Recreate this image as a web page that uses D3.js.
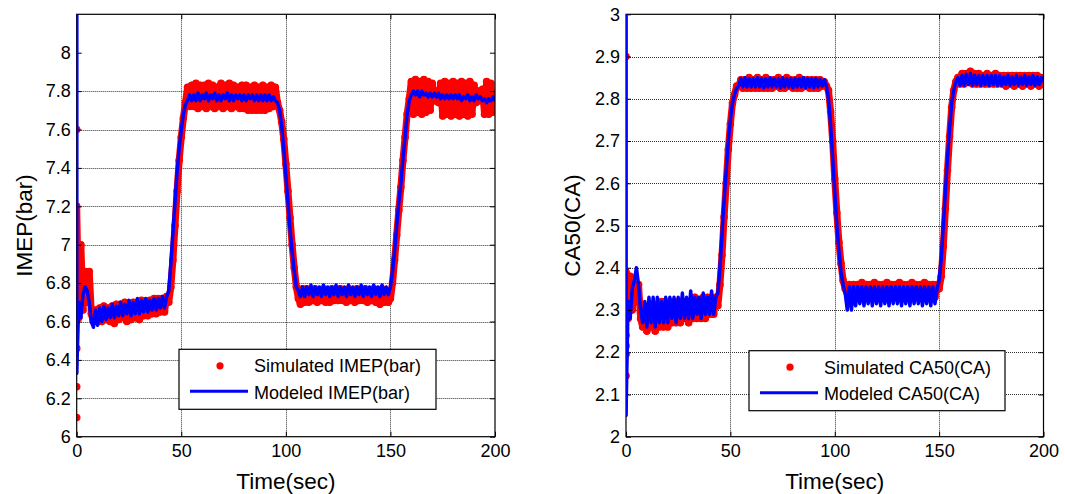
<!DOCTYPE html>
<html><head><meta charset="utf-8">
<script src="https://cdn.jsdelivr.net/npm/d3@7"></script>
<style>
body{margin:0;background:#fff}
svg text{font-family:"Liberation Sans",Arial,sans-serif;fill:#000}
</style>
</head><body>
<svg id="chart" width="1065" height="494"></svg>
<script>
// ---------- data ----------
const timeSec = d3.range(0, 201); // 1-second samples, 0..200 s
const xTicks = [0, 50, 100, 150, 200];
const imepTicks = [6, 6.2, 6.4, 6.6, 6.8, 7, 7.2, 7.4, 7.6, 7.8, 8];
const ca50Ticks = [2, 2.1, 2.2, 2.3, 2.4, 2.5, 2.6, 2.7, 2.8, 2.9, 3];

// initial samples at t = 0
const imepSimStart = [7.6, 6.87, 6.68, 6.46, 6.26, 6.10];
const imepModelStart = [8.3];
const ca50SimStart = [2.90, 2.24, 2.215, 2.195, 2.144];
const ca50ModelStart = [3.05];

const imepSim = [
7.20,6.62,7.00,6.66,6.86,6.70,6.86,6.64,6.60,6.66,
6.60,6.67,6.60,6.68,6.61,6.67,6.60,6.68,6.59,6.69,
6.61,6.69,6.62,6.70,6.60,6.69,6.61,6.70,6.62,6.70,
6.61,6.71,6.63,6.70,6.63,6.71,6.64,6.72,6.64,6.72,
6.65,6.72,6.65,6.73,6.70,6.78,6.92,7.10,7.28,7.44,
7.56,7.66,7.74,7.82,7.72,7.83,7.72,7.84,7.71,7.83,
7.72,7.83,7.71,7.84,7.72,7.83,7.71,7.82,7.72,7.84,
7.71,7.83,7.72,7.84,7.71,7.83,7.72,7.82,7.71,7.83,
7.71,7.83,7.70,7.82,7.70,7.83,7.70,7.82,7.70,7.83,
7.70,7.82,7.71,7.83,7.72,7.82,7.74,7.70,7.64,7.55,
7.42,7.28,7.14,7.00,6.88,6.78,6.72,6.69,6.77,6.70,
6.77,6.70,6.76,6.71,6.77,6.70,6.76,6.71,6.77,6.70,
6.76,6.70,6.77,6.71,6.76,6.71,6.77,6.71,6.76,6.70,
6.77,6.71,6.76,6.70,6.77,6.71,6.76,6.71,6.77,6.70,
6.76,6.71,6.77,6.70,6.76,6.69,6.77,6.70,6.76,6.70,
6.72,6.80,6.92,7.05,7.18,7.30,7.44,7.56,7.68,7.76,
7.85,7.68,7.86,7.69,7.85,7.68,7.86,7.69,7.85,7.70,
7.84,7.75,7.80,7.74,7.84,7.67,7.85,7.68,7.84,7.67,
7.85,7.68,7.84,7.67,7.85,7.68,7.84,7.67,7.85,7.68,
7.83,7.74,7.80,7.75,7.81,7.68,7.85,7.68,7.84,7.69,
7.78];

const imepModel = [
6.33,6.70,6.62,6.74,6.78,6.76,6.70,6.60,6.57,6.66,
6.58,6.67,6.60,6.68,6.61,6.67,6.62,6.69,6.62,6.68,
6.63,6.70,6.63,6.69,6.64,6.71,6.63,6.70,6.64,6.72,
6.64,6.71,6.65,6.72,6.65,6.71,6.66,6.72,6.66,6.72,
6.67,6.73,6.67,6.73,6.76,6.90,7.06,7.22,7.38,7.50,
7.60,7.68,7.73,7.75,7.78,7.75,7.78,7.75,7.79,7.75,
7.78,7.76,7.79,7.75,7.78,7.76,7.79,7.75,7.78,7.75,
7.78,7.76,7.79,7.75,7.78,7.75,7.78,7.76,7.78,7.75,
7.78,7.75,7.78,7.76,7.78,7.75,7.78,7.75,7.78,7.75,
7.78,7.75,7.78,7.75,7.77,7.75,7.74,7.70,7.62,7.50,
7.36,7.22,7.08,6.96,6.86,6.78,6.76,6.73,6.78,6.73,
6.78,6.74,6.79,6.73,6.78,6.74,6.78,6.73,6.79,6.74,
6.78,6.73,6.78,6.74,6.79,6.73,6.78,6.74,6.78,6.73,
6.79,6.74,6.78,6.73,6.78,6.74,6.79,6.73,6.78,6.74,
6.78,6.73,6.79,6.74,6.78,6.73,6.79,6.74,6.78,6.74,
6.78,6.86,6.97,7.10,7.22,7.32,7.45,7.56,7.68,7.75,
7.78,7.80,7.78,7.80,7.77,7.80,7.78,7.79,7.77,7.79,
7.77,7.79,7.77,7.79,7.76,7.78,7.76,7.78,7.76,7.78,
7.76,7.78,7.76,7.78,7.75,7.77,7.76,7.78,7.75,7.77,
7.75,7.78,7.76,7.77,7.75,7.76,7.74,7.76,7.75,7.77,
7.75];

const ca50Sim = [
2.39,2.28,2.38,2.30,2.36,2.32,2.36,2.28,2.26,2.30,
2.25,2.31,2.26,2.31,2.25,2.31,2.26,2.32,2.26,2.31,
2.26,2.32,2.27,2.31,2.27,2.32,2.27,2.32,2.28,2.32,
2.27,2.32,2.28,2.33,2.28,2.32,2.28,2.33,2.28,2.33,
2.29,2.33,2.29,2.33,2.31,2.36,2.43,2.52,2.60,2.68,
2.74,2.79,2.81,2.83,2.83,2.845,2.825,2.845,2.825,2.85,
2.825,2.845,2.825,2.85,2.825,2.845,2.825,2.85,2.825,2.845,
2.825,2.845,2.83,2.85,2.825,2.845,2.825,2.85,2.83,2.845,
2.825,2.845,2.825,2.85,2.825,2.845,2.83,2.845,2.825,2.845,
2.825,2.845,2.825,2.845,2.83,2.84,2.83,2.82,2.77,2.70,
2.61,2.53,2.46,2.41,2.37,2.35,2.34,2.36,2.33,2.36,
2.33,2.36,2.33,2.365,2.33,2.36,2.335,2.36,2.33,2.365,
2.33,2.36,2.335,2.36,2.33,2.365,2.33,2.36,2.335,2.36,
2.33,2.365,2.33,2.36,2.335,2.36,2.33,2.365,2.33,2.36,
2.335,2.36,2.33,2.365,2.33,2.36,2.335,2.36,2.33,2.36,
2.35,2.38,2.45,2.54,2.63,2.71,2.78,2.82,2.84,2.85,
2.835,2.86,2.835,2.86,2.84,2.865,2.835,2.86,2.835,2.86,
2.835,2.855,2.835,2.86,2.835,2.855,2.835,2.86,2.835,2.855,
2.835,2.855,2.83,2.855,2.835,2.855,2.83,2.855,2.835,2.855,
2.83,2.855,2.835,2.855,2.83,2.855,2.835,2.855,2.83,2.85,
2.84];

const ca50Model = [
2.05,2.32,2.28,2.35,2.37,2.40,2.36,2.30,2.27,2.32,
2.26,2.33,2.27,2.33,2.26,2.33,2.27,2.32,2.27,2.33,
2.27,2.33,2.28,2.33,2.27,2.33,2.28,2.34,2.28,2.33,
2.28,2.345,2.28,2.33,2.29,2.33,2.28,2.34,2.29,2.33,
2.29,2.345,2.29,2.33,2.34,2.40,2.48,2.56,2.63,2.70,
2.75,2.79,2.81,2.825,2.83,2.848,2.828,2.85,2.828,2.848,
2.828,2.848,2.828,2.85,2.828,2.848,2.826,2.848,2.828,2.85,
2.828,2.848,2.828,2.848,2.826,2.85,2.828,2.848,2.828,2.848,
2.826,2.848,2.828,2.848,2.828,2.85,2.826,2.848,2.828,2.848,
2.826,2.848,2.828,2.846,2.83,2.845,2.83,2.80,2.74,2.66,
2.58,2.50,2.44,2.39,2.36,2.34,2.30,2.355,2.30,2.355,
2.31,2.355,2.315,2.355,2.31,2.355,2.315,2.355,2.31,2.355,
2.315,2.355,2.31,2.355,2.315,2.355,2.31,2.355,2.315,2.355,
2.315,2.355,2.31,2.355,2.315,2.355,2.31,2.355,2.315,2.355,
2.315,2.355,2.31,2.355,2.315,2.355,2.31,2.355,2.315,2.35,
2.37,2.42,2.50,2.58,2.66,2.73,2.79,2.82,2.84,2.85,
2.832,2.855,2.832,2.858,2.834,2.86,2.832,2.856,2.834,2.855,
2.832,2.855,2.834,2.855,2.832,2.855,2.834,2.855,2.832,2.855,
2.832,2.852,2.834,2.855,2.832,2.852,2.834,2.855,2.832,2.852,
2.834,2.855,2.832,2.852,2.834,2.855,2.832,2.852,2.834,2.85,
2.84];

// ---------- drawing ----------
const svg = d3.select("#chart");
const RED = "#ff0000", BLUE = "#0000ff";

function panel(cfg) {
  const x = d3.scaleLinear().domain([0, 200]).range([cfg.x0, cfg.x1]);
  const y = d3.scaleLinear().domain(cfg.yDomain).range([436.7, 14.3]);
  const g = svg.append("g");
  const [L, R] = x.range(), [B, T] = y.range();

  // grid
  const grid = g.append("g").attr("stroke", "#000").attr("stroke-width", 1)
    .attr("stroke-dasharray", "1,1").attr("opacity", 0.8);
  grid.selectAll("line.v").data(xTicks.slice(1, -1)).join("line")
    .attr("x1", d => Math.round(x(d)) + 0.5).attr("x2", d => Math.round(x(d)) + 0.5)
    .attr("y1", T).attr("y2", B);
  grid.selectAll("line.h").data(cfg.yTicks.slice(1, -1)).join("line")
    .attr("y1", d => Math.round(y(d)) + 0.5).attr("y2", d => Math.round(y(d)) + 0.5)
    .attr("x1", L).attr("x2", R);

  // clip
  const cid = "clip" + cfg.id;
  svg.append("clipPath").attr("id", cid).append("rect")
    .attr("x", L).attr("y", T).attr("width", R - L).attr("height", B - T);
  const plot = g.append("g").attr("clip-path", `url(#${cid})`);

  // simulated (red dots forming a band)
  const simPts = timeSec.map((t, i) => [t, cfg.sim[i]]);
  plot.append("path").datum(simPts)
    .attr("d", d3.line().x(d => x(d[0])).y(d => y(d[1])))
    .attr("fill", "none").attr("stroke", RED).attr("stroke-width", 7)
    .attr("stroke-linejoin", "round").attr("stroke-linecap", "round");
  plot.selectAll("circle.sim").data(simPts).join("circle")
    .attr("cx", d => x(d[0])).attr("cy", d => y(d[1])).attr("r", 3.8).attr("fill", RED);
  plot.selectAll("circle.st").data(cfg.simStart).join("circle")
    .attr("cx", x(0)).attr("cy", d => y(d)).attr("r", 3.8).attr("fill", RED);

  // modeled (blue line)
  const modPts = cfg.modelStart.map(v => [0, v]).concat(timeSec.map((t, i) => [t, cfg.model[i]]));
  plot.append("path").datum(modPts)
    .attr("d", d3.line().x(d => x(d[0])).y(d => y(d[1])))
    .attr("fill", "none").attr("stroke", BLUE).attr("stroke-width", 3.5)
    .attr("stroke-linejoin", "round");

  // axes (ticks inward)
  const ax = g.append("g");
  const fmt = d => String(d);
  ax.append("g").attr("transform", `translate(0,${B})`)
    .call(d3.axisBottom(x).tickValues(xTicks).tickFormat(fmt).tickSizeInner(-5).tickSizeOuter(0).tickPadding(8));
  ax.append("g").attr("transform", `translate(0,${T})`)
    .call(d3.axisTop(x).tickValues(xTicks).tickFormat("").tickSizeInner(-5).tickSizeOuter(0));
  ax.append("g").attr("transform", `translate(${L},0)`)
    .call(d3.axisLeft(y).tickValues(cfg.yTicks).tickFormat(fmt).tickSizeInner(-5).tickSizeOuter(0).tickPadding(6));
  ax.append("g").attr("transform", `translate(${R},0)`)
    .call(d3.axisRight(y).tickValues(cfg.yTicks).tickFormat("").tickSizeInner(-5).tickSizeOuter(0));
  ax.selectAll(".domain").remove();
  ax.selectAll("text").style("font-size", "18px").attr("fill", "#000");
  ax.selectAll("line").attr("stroke", "#000");

  // frame
  g.append("rect").attr("x", L).attr("y", T).attr("width", R - L).attr("height", B - T)
    .attr("fill", "none").attr("stroke", "#000").attr("stroke-width", 1.2);
  // blue start segment drawn over the frame (as in reference)
  g.append("path").datum(modPts.slice(0, cfg.modelStart.length + 1))
    .attr("clip-path", `url(#${cid})`)
    .attr("d", d3.line().x(d => x(d[0])).y(d => y(d[1])))
    .attr("fill", "none").attr("stroke", BLUE).attr("stroke-width", 3);

  // titles
  g.append("text").attr("x", (L + R) / 2).attr("y", 489).attr("text-anchor", "middle")
    .style("font-size", "22.5px").text("Time(sec)");
  g.append("text").attr("transform", `translate(${cfg.yTitleX},${(T + B) / 2}) rotate(-90)`)
    .attr("text-anchor", "middle").style("font-size", "22.5px").text(cfg.yTitle);

  // legend
  const lg = g.append("g");
  const lb = cfg.legend;
  lg.append("rect").attr("x", lb.x).attr("y", lb.y).attr("width", lb.w).attr("height", 60)
    .attr("fill", "#fff").attr("stroke", "#000").attr("stroke-width", 1.2);
  lg.append("circle").attr("cx", lb.x + 41).attr("cy", lb.y + 16.5).attr("r", 3.6).attr("fill", RED);
  lg.append("line").attr("x1", lb.x + 11).attr("x2", lb.x + 69).attr("y1", lb.y + 42).attr("y2", lb.y + 42)
    .attr("stroke", BLUE).attr("stroke-width", 3);
  lg.append("text").attr("x", lb.x + 75).attr("y", lb.y + 23).style("font-size", "18px").text(cfg.simLabel);
  lg.append("text").attr("x", lb.x + 75).attr("y", lb.y + 49.5).style("font-size", "18px").text(cfg.modelLabel);
}

panel({
  id: "a", x0: 76.7, x1: 495, yDomain: [6, 8.2], yTicks: imepTicks,
  sim: imepSim, model: imepModel, simStart: imepSimStart, modelStart: imepModelStart,
  yTitle: "IMEP(bar)", yTitleX: 32,
  simLabel: "Simulated IMEP(bar)", modelLabel: "Modeled IMEP(bar)",
  legend: { x: 179, y: 349.3, w: 257 }
});
panel({
  id: "b", x0: 626, x1: 1043.5, yDomain: [2, 3], yTicks: ca50Ticks,
  sim: ca50Sim, model: ca50Model, simStart: ca50SimStart, modelStart: ca50ModelStart,
  yTitle: "CA50(CA)", yTitleX: 580,
  simLabel: "Simulated CA50(CA)", modelLabel: "Modeled CA50(CA)",
  legend: { x: 749, y: 350.7, w: 256 }
});
</script>
</body></html>
